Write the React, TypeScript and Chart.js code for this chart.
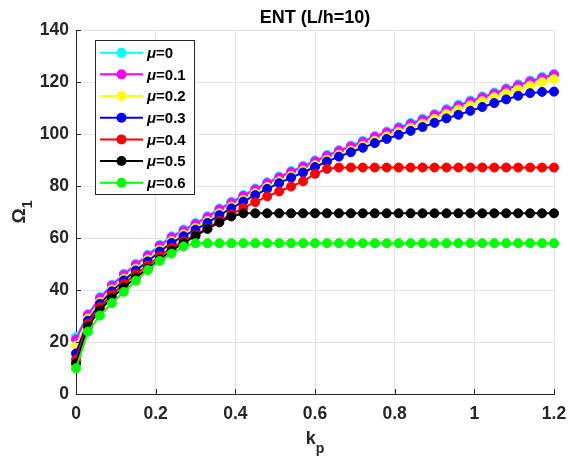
import React, { useEffect, useRef } from "react";
import { Chart, registerables } from "chart.js";

Chart.register(...registerables);

const kp = [
  0, 0.03, 0.06, 0.09, 0.12, 0.15, 0.18, 0.21, 0.24, 0.27, 0.3, 0.33, 0.36, 0.39,
  0.42, 0.45, 0.48, 0.51, 0.54, 0.57, 0.6, 0.63, 0.66, 0.69, 0.72, 0.75, 0.78,
  0.81, 0.84, 0.87, 0.9, 0.93, 0.96, 0.99, 1.02, 1.05, 1.08, 1.11, 1.14, 1.17, 1.2,
];

const mu0 = [
  22.0, 30.8, 37.3, 42.1, 46.3, 50.1, 53.6, 57.4, 60.7, 63.3, 65.8, 68.4, 71.4,
  74.0, 76.6, 79.1, 81.5, 83.7, 85.8, 87.8, 89.9, 92.0, 93.9, 95.6, 97.4, 99.3,
  101.0, 102.7, 104.3, 105.9, 107.7, 109.6, 111.3, 112.9, 114.5, 116.0, 117.6,
  119.1, 120.6, 122.0, 123.2,
];
const mu01 = [
  21.0, 30.4, 36.9, 41.7, 45.9, 49.7, 53.2, 57.0, 60.3, 62.9, 65.4, 68.0, 71.0,
  73.6, 76.2, 78.7, 81.1, 83.3, 85.4, 87.4, 89.5, 91.6, 93.5, 95.2, 97.0, 98.9,
  100.6, 102.3, 103.9, 105.5, 107.3, 109.2, 110.9, 112.5, 114.1, 115.6, 117.2,
  118.7, 120.2, 121.6, 122.8,
];
const mu02 = [
  18.6, 29.0, 35.4, 40.2, 44.4, 48.2, 51.7, 55.5, 58.8, 61.4, 63.9, 66.5, 69.5,
  72.1, 74.7, 77.2, 79.6, 81.8, 83.9, 85.9, 88.0, 90.1, 92.0, 93.7, 95.5, 97.4,
  99.1, 100.8, 102.4, 104.0, 105.8, 107.7, 109.4, 111.0, 112.6, 114.1, 115.6,
  117.1, 118.6, 120.0, 121.1,
];
const mu03 = [
  15.6, 28.2, 34.7, 39.5, 43.7, 47.5, 51.0, 54.8, 58.1, 60.7, 63.2, 65.8, 68.8,
  71.4, 74.0, 76.5, 78.9, 81.1, 83.2, 85.2, 87.3, 89.4, 91.3, 93.0, 94.7, 96.5,
  98.1, 99.7, 101.2, 102.7, 104.3, 106.0, 107.4, 108.9, 110.4, 111.9, 113.3,
  114.7, 115.7, 116.2, 116.3,
];
const mu04 = [
  13.3, 27.0, 33.4, 38.2, 42.3, 46.0, 49.4, 53.0, 56.2, 58.7, 61.2, 63.7, 66.6,
  69.1, 71.6, 73.8, 76.0, 77.9, 79.8, 81.8, 84.7, 86.6, 87.1, 87.1, 87.1, 87.1,
  87.1, 87.1, 87.1, 87.1, 87.1, 87.1, 87.1, 87.1, 87.1, 87.1, 87.1, 87.1, 87.1,
  87.1, 87.1,
];
const mu05 = [
  11.8, 26.0, 32.3, 37.0, 41.0, 44.8, 48.2, 51.8, 55.2, 58.0, 60.8, 63.5, 66.0,
  68.3, 69.5, 69.5, 69.5, 69.5, 69.5, 69.5, 69.5, 69.5, 69.5, 69.5, 69.5, 69.5,
  69.5, 69.5, 69.5, 69.5, 69.5, 69.5, 69.5, 69.5, 69.5, 69.5, 69.5, 69.5, 69.5,
  69.5, 69.5,
];
const mu06 = [
  9.9, 24.0, 30.2, 35.0, 39.3, 43.6, 47.7, 51.2, 54.0, 56.8, 58.0, 58.0, 58.0,
  58.0, 58.0, 58.0, 58.0, 58.0, 58.0, 58.0, 58.0, 58.0, 58.0, 58.0, 58.0, 58.0,
  58.0, 58.0, 58.0, 58.0, 58.0, 58.0, 58.0, 58.0, 58.0, 58.0, 58.0, 58.0, 58.0,
  58.0, 58.0,
];

const series = [mu0, mu01, mu02, mu03, mu04, mu05, mu06];
const muValues = ["0", "0.1", "0.2", "0.3", "0.4", "0.5", "0.6"];
const colors = ["#00ffff", "#ff00ff", "#ffff00", "#0000ff", "#ff0000", "#000000", "#00ff00"];

const xTicks = [0, 0.2, 0.4, 0.6, 0.8, 1, 1.2];
const yTicks = [0, 20, 40, 60, 80, 100, 120, 140];
const titleText = "ENT (L/h=10)";

const FONT = '"Liberation Sans", Arial, Helvetica, sans-serif';
const AXIS = "#262626";

const decor = {
  id: "decor",
  afterDraw(chart: any) {
    const { ctx, chartArea } = chart;
    const xs = chart.scales.x;
    const ys = chart.scales.y;
    ctx.save();
    // inner ticks
    ctx.strokeStyle = AXIS;
    ctx.lineWidth = 1;
    ctx.beginPath();
    xTicks.forEach((v) => {
      const px = Math.round(xs.getPixelForValue(v)) + 0.5;
      ctx.moveTo(px, chartArea.bottom);
      ctx.lineTo(px, chartArea.bottom - 5);
    });
    yTicks.forEach((v) => {
      const py = Math.round(ys.getPixelForValue(v)) + 0.5;
      ctx.moveTo(chartArea.left, py);
      ctx.lineTo(chartArea.left + 5, py);
    });
    ctx.stroke();

    // title
    ctx.fillStyle = "#000";
    ctx.font = `bold 18px ${FONT}`;
    ctx.textAlign = "center";
    ctx.textBaseline = "alphabetic";
    ctx.fillText(titleText, (chartArea.left + chartArea.right) / 2, 23);

    // x label k_p
    ctx.fillStyle = AXIS;
    const cx = (chartArea.left + chartArea.right) / 2;
    ctx.font = `bold 18px ${FONT}`;
    const wk = ctx.measureText("k").width;
    ctx.font = `bold 14px ${FONT}`;
    const wp = ctx.measureText("p").width;
    const startX = cx - (wk + wp) / 2;
    ctx.textAlign = "left";
    ctx.font = `bold 18px ${FONT}`;
    ctx.fillText("k", startX, 443.5);
    ctx.font = `bold 14px ${FONT}`;
    ctx.fillText("p", startX + wk, 452.5);

    // y label Omega_1
    const cy = (chartArea.top + chartArea.bottom) / 2;
    ctx.save();
    ctx.font = `bold 19px ${FONT}`;
    const wO = ctx.measureText("Ω").width;
    ctx.font = `bold 14px ${FONT}`;
    const w1 = ctx.measureText("1").width;
    ctx.translate(25, cy + (wO + w1) / 2);
    ctx.rotate(-Math.PI / 2);
    ctx.font = `bold 19px ${FONT}`;
    ctx.fillText("Ω", 0, 0);
    ctx.font = `bold 14px ${FONT}`;
    ctx.fillText("1", wO, 6.5);
    ctx.restore();

    // legend
    const lx0 = 95.5, ly0 = 40.5, lw = 99, lh = 154;
    ctx.fillStyle = "#fff";
    ctx.fillRect(lx0, ly0, lw, lh);
    ctx.strokeStyle = AXIS;
    ctx.lineWidth = 1;
    ctx.strokeRect(lx0, ly0, lw, lh);
    muValues.forEach((m, i) => {
      const y = 52.7 + i * 21.67;
      ctx.strokeStyle = colors[i];
      ctx.lineWidth = 2;
      ctx.beginPath();
      ctx.moveTo(100, y);
      ctx.lineTo(143, y);
      ctx.stroke();
      ctx.fillStyle = colors[i];
      ctx.beginPath();
      ctx.arc(121.5, y, 5, 0, Math.PI * 2);
      ctx.fill();
      ctx.fillStyle = "#000";
      ctx.textBaseline = "middle";
      ctx.textAlign = "left";
      ctx.font = `italic bold 15px ${FONT}`;
      ctx.fillText("μ", 147, y + 1);
      const wm = ctx.measureText("μ").width;
      ctx.font = `bold 15px ${FONT}`;
      ctx.fillText("=" + m, 147 + wm, y + 1);
    });
    ctx.restore();
  },
};

export default function App() {
  const ref = useRef<HTMLCanvasElement>(null);
  useEffect(() => {
    document.body.style.margin = "0";
    const canvas = ref.current!;
    const datasets = series.map((s, i) => ({
      label: "μ=" + muValues[i],
      data: s.map((y, j) => ({ x: kp[j], y })),
      borderColor: colors[i],
      backgroundColor: colors[i],
      pointBackgroundColor: colors[i],
      pointBorderColor: colors[i],
      borderWidth: 2,
      pointRadius: 4.5,
      pointBorderWidth: 1,
      order: 7 - i,
      clip: false as any,
      tension: 0,
    }));
    const tickFont = { family: FONT, size: 17.5, weight: "bold" as const };
    const chart = new Chart(canvas, {
      type: "line",
      data: { datasets },
      options: {
        responsive: false,
        animation: false,
        devicePixelRatio: 1,
        layout: { padding: { top: 30, right: 14, left: 0, bottom: 0 } },
        plugins: {
          legend: { display: false },
          tooltip: { enabled: false },
          title: { display: false },
        },
        scales: {
          x: {
            type: "linear",
            min: 0,
            max: 1.2,
            afterBuildTicks: (s: any) => {
              s.ticks = xTicks.map((v) => ({ value: v }));
            },
            ticks: {
              color: AXIS,
              font: tickFont,
              padding: 10,
              maxRotation: 0,
              autoSkip: false,
              callback: (v: any) => String(Math.round(Number(v) * 10) / 10),
            },
            grid: { color: "#e3e3e3", drawTicks: false },
            border: { color: AXIS, width: 1 },
            afterFit: (s: any) => {
              s.height = 68;
              s.paddingLeft = 0;
              s.paddingRight = 0;
            },
          },
          y: {
            min: 0,
            max: 140,
            afterBuildTicks: (s: any) => {
              s.ticks = yTicks.map((v) => ({ value: v }));
            },
            ticks: {
              color: AXIS,
              font: tickFont,
              padding: 7,
              autoSkip: false,
              callback: (v: any) => String(v),
            },
            grid: { color: "#e3e3e3", drawTicks: false },
            border: { color: AXIS, width: 1 },
            afterFit: (s: any) => {
              s.width = 76;
              s.paddingTop = 0;
              s.paddingBottom = 0;
            },
          },
        },
      },
      plugins: [decor],
    });
    return () => chart.destroy();
  }, []);
  return (
    <canvas ref={ref} width={568} height={462} style={{ display: "block" }} />
  );
}
